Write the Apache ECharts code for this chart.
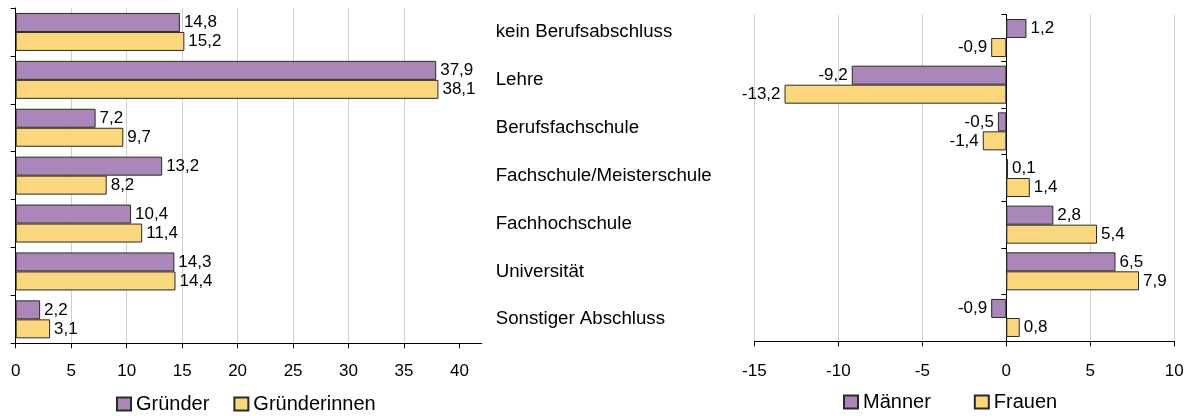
<!DOCTYPE html>
<html>
<head>
<meta charset="utf-8">
<script src="https://cdn.jsdelivr.net/npm/echarts@6/dist/echarts.min.js"></script>
<style>
  html, body { margin: 0; padding: 0; background: #fff; }
  #chart { width: 1192px; height: 416px; }
</style>
</head>
<body>
<div id="chart"></div>
<script>
// Kategorien (oben nach unten)
var categories = ['kein Berufsabschluss', 'Lehre', 'Berufsfachschule', 'Fachschule/Meisterschule',
	'Fachhochschule', 'Universität', 'Sonstiger Abschluss'];

// linkes Diagramm: Anteile
var gruender = [14.8, 37.9, 7.2, 13.2, 10.4, 14.3, 2.2];
var gruenderinnen = [15.2, 38.1, 9.7, 8.2, 11.4, 14.4, 3.1];
var leftTicks = [0, 5, 10, 15, 20, 25, 30, 35, 40];

// rechtes Diagramm: Veränderung
var maenner = [1.2, -9.2, -0.5, 0.1, 2.8, 6.5, -0.9];
var frauen = [-0.9, -13.2, -1.4, 1.4, 5.4, 7.9, 0.8];

var FONT = '"Liberation Sans", Arial, sans-serif';
var PURPLE = '#aa86b9';
var YELLOW = '#fad67c';
var BORDER = '#2a2a2a';

function fmt(v) {
	return v.toFixed(1).replace('.', ',');
}

// Datenpunkte mit Beschriftung links/rechts je nach Vorzeichen
function withLabels(values) {
	return values.map(function (v) {
		return { value: v, label: { position: v < 0 ? 'left' : 'right' } };
	});
}

function barSeries(name, data, color, xIdx, yIdx) {
	return {
		name: name,
		type: 'bar',
		xAxisIndex: xIdx,
		yAxisIndex: yIdx,
		barWidth: 19,
		barGap: '0%',
		itemStyle: { color: color, borderColor: BORDER, borderWidth: 1 },
		label: {
			show: true,
			position: 'right',
			distance: 4,
			fontFamily: FONT,
			fontSize: 17,
			color: '#000',
			formatter: function (p) { return fmt(p.value); }
		},
		data: data
	};
}

var chart = echarts.init(document.getElementById('chart'));

var option = {
	animation: false,
	textStyle: { fontFamily: FONT },
	grid: [
		{ left: 15.7, top: 8, width: 466, height: 335.3 },
		{ left: 754.3, top: 14.7, width: 420, height: 326.6 }
	],
	legend: [
		{
			left: 111, top: 389,
			itemWidth: 14, itemHeight: 13, itemGap: 24,
			icon: 'rect',
			textStyle: { fontFamily: FONT, fontSize: 20, color: '#000' },
			data: ['Gründer', 'Gründerinnen']
		},
		{
			left: 838, top: 387,
			itemWidth: 14, itemHeight: 13, itemGap: 43,
			icon: 'rect',
			textStyle: { fontFamily: FONT, fontSize: 20, color: '#000' },
			data: ['Männer', 'Frauen']
		}
	],
	xAxis: [
		{
			gridIndex: 0,
			type: 'value',
			min: 0, max: 42, interval: 5,
			axisLine: { show: true, lineStyle: { color: '#000' } },
			axisTick: { show: true, length: 5, customValues: leftTicks, lineStyle: { color: '#000' } },
			axisLabel: { customValues: leftTicks, margin: 20, fontSize: 17, color: '#000', fontFamily: FONT },
			splitLine: { show: true, showMaxLine: false, lineStyle: { color: '#cfcfcf' } }
		},
		{
			gridIndex: 1,
			type: 'value',
			min: -15, max: 10, interval: 5,
			axisLine: { show: true, onZero: false, lineStyle: { color: '#000' } },
			axisTick: { show: true, length: 5, lineStyle: { color: '#000' } },
			axisLabel: { margin: 22, fontSize: 17, color: '#000', fontFamily: FONT },
			splitLine: { show: true, lineStyle: { color: '#cfcfcf' } }
		}
	],
	yAxis: [
		{
			gridIndex: 0,
			type: 'category',
			inverse: true,
			data: categories,
			axisLine: { show: true, lineStyle: { color: '#000' } },
			axisTick: { show: true, length: 5, lineStyle: { color: '#000' } },
			axisLabel: { show: false }
		},
		{
			// Kategorienamen zwischen den beiden Diagrammen
			gridIndex: 0,
			type: 'category',
			position: 'right',
			inverse: true,
			data: categories,
			axisLine: { show: false, onZero: false },
			axisTick: { show: false },
			axisLabel: { margin: 14, align: 'left', fontSize: 18.7, color: '#000', fontFamily: FONT },
			splitLine: { show: false }
		},
		{
			gridIndex: 1,
			type: 'category',
			inverse: true,
			data: categories,
			axisLine: { show: true, onZero: true, lineStyle: { color: '#000' } },
			axisTick: { show: true, length: 5, lineStyle: { color: '#000' } },
			axisLabel: { show: false }
		}
	],
	series: [
		barSeries('Gründer', gruender, PURPLE, 0, 0),
		barSeries('Gründerinnen', gruenderinnen, YELLOW, 0, 0),
		barSeries('Männer', withLabels(maenner), PURPLE, 1, 2),
		barSeries('Frauen', withLabels(frauen), YELLOW, 1, 2)
	]
};

chart.setOption(option);
</script>
</body>
</html>
